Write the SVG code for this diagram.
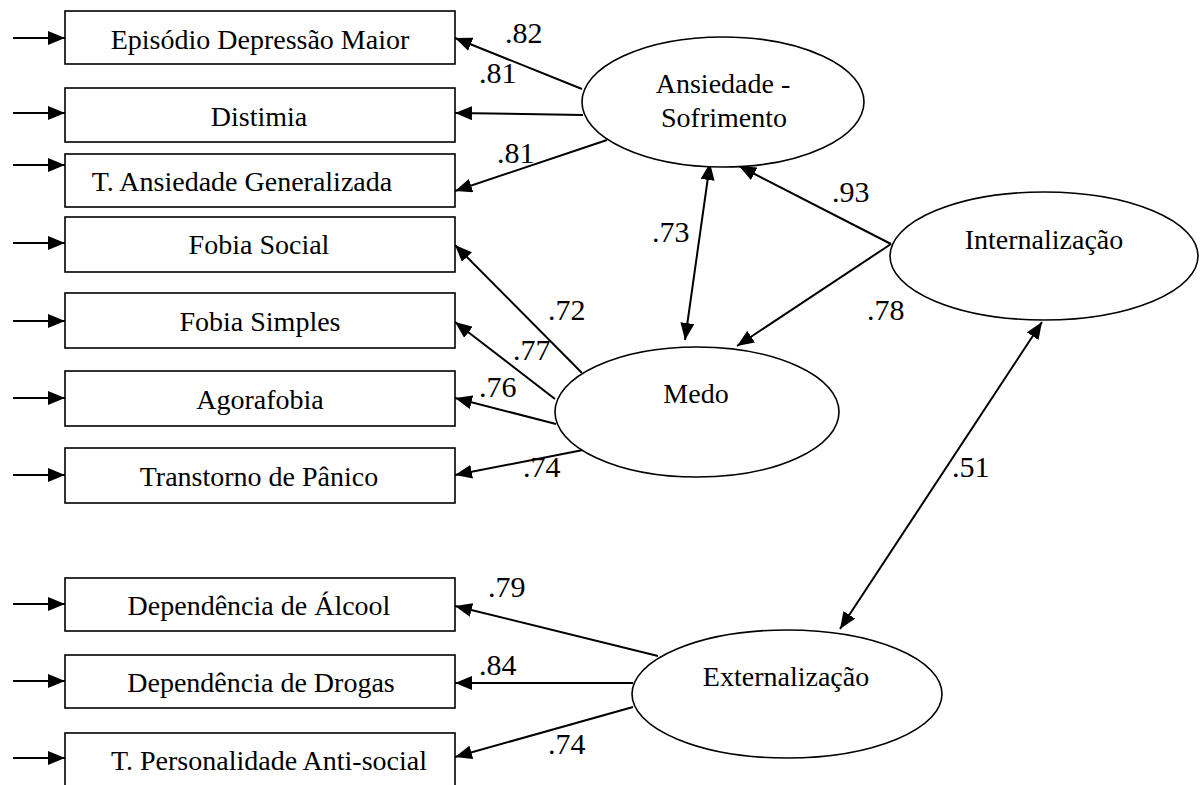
<svg xmlns="http://www.w3.org/2000/svg" width="1200" height="785" viewBox="0 0 1200 785">
<style>
.box{fill:#fff;stroke:#000;stroke-width:1.6}
.lat{fill:#fff;stroke:#000;stroke-width:1.6}
.t{font-family:"Liberation Serif","Times New Roman",serif;font-size:28px;fill:#000;text-anchor:middle}
.n{font-family:"Liberation Serif","Times New Roman",serif;font-size:30px;fill:#000}
.c{stroke:#000;stroke-width:2;fill:none}
</style>
<defs>
<marker id="ah" markerUnits="userSpaceOnUse" markerWidth="18" markerHeight="14" refX="17" refY="7" orient="auto-start-reverse" viewBox="0 0 18 14">
<path d="M0,0 L17,7 L0,14 z" fill="#000"/>
</marker>
</defs>
<rect width="1200" height="785" fill="#fff"/>

<g id="connectors">
<line class="c" x1="13" y1="38" x2="65" y2="38" marker-end="url(#ah)"/>
<line class="c" x1="13" y1="113" x2="65" y2="113" marker-end="url(#ah)"/>
<line class="c" x1="13" y1="165" x2="65" y2="165" marker-end="url(#ah)"/>
<line class="c" x1="13" y1="243" x2="65" y2="243" marker-end="url(#ah)"/>
<line class="c" x1="13" y1="321" x2="65" y2="321" marker-end="url(#ah)"/>
<line class="c" x1="13" y1="398" x2="65" y2="398" marker-end="url(#ah)"/>
<line class="c" x1="13" y1="475" x2="65" y2="475" marker-end="url(#ah)"/>
<line class="c" x1="13" y1="604" x2="65" y2="604" marker-end="url(#ah)"/>
<line class="c" x1="13" y1="681" x2="65" y2="681" marker-end="url(#ah)"/>
<line class="c" x1="13" y1="758" x2="65" y2="758" marker-end="url(#ah)"/>
<line class="c" x1="582" y1="89" x2="455" y2="38" marker-end="url(#ah)"/>
<line class="c" x1="583" y1="115" x2="455" y2="113" marker-end="url(#ah)"/>
<line class="c" x1="607" y1="140" x2="455" y2="191" marker-end="url(#ah)"/>
<line class="c" x1="710" y1="163" x2="685" y2="340" marker-start="url(#ah)" marker-end="url(#ah)"/>
<line class="c" x1="891" y1="244" x2="739" y2="166" marker-end="url(#ah)"/>
<line class="c" x1="891" y1="244" x2="737" y2="346" marker-end="url(#ah)"/>
<line class="c" x1="582" y1="373" x2="455" y2="245" marker-end="url(#ah)"/>
<line class="c" x1="555" y1="399" x2="455" y2="322" marker-end="url(#ah)"/>
<line class="c" x1="556" y1="424" x2="455" y2="398" marker-end="url(#ah)"/>
<line class="c" x1="583" y1="450" x2="455" y2="475" marker-end="url(#ah)"/>
<line class="c" x1="1042" y1="322" x2="840" y2="629" marker-start="url(#ah)" marker-end="url(#ah)"/>
<line class="c" x1="658" y1="656" x2="455" y2="606" marker-end="url(#ah)"/>
<line class="c" x1="633" y1="683" x2="455" y2="683" marker-end="url(#ah)"/>
<line class="c" x1="633" y1="707" x2="455" y2="757" marker-end="url(#ah)"/>
</g>

<g id="labels">
<text class="n" x="505" y="43">.82</text>
<text class="n" x="479" y="83">.81</text>
<text class="n" x="497" y="163">.81</text>
<text class="n" x="832" y="202">.93</text>
<text class="n" x="652" y="242">.73</text>
<text class="n" x="867" y="320">.78</text>
<text class="n" x="548" y="320">.72</text>
<text class="n" x="513" y="360">.77</text>
<text class="n" x="479" y="397">.76</text>
<text class="n" x="523" y="477">.74</text>
<text class="n" x="952" y="477">.51</text>
<text class="n" x="488" y="597">.79</text>
<text class="n" x="479" y="675">.84</text>
<text class="n" x="548" y="754">.74</text>
</g>

<g id="n-edm"><rect class="box" x="65" y="11" width="390" height="53"/><text class="t" x="260" y="49">Episódio Depressão Maior</text></g>
<g id="n-dist"><rect class="box" x="65" y="88" width="390" height="54"/><text class="t" x="259" y="126">Distimia</text></g>
<g id="n-tag"><rect class="box" x="65" y="154" width="390" height="53"/><text class="t" x="242" y="191">T. Ansiedade Generalizada</text></g>
<g id="n-fsoc"><rect class="box" x="65" y="217" width="390" height="55"/><text class="t" x="259" y="254">Fobia Social</text></g>
<g id="n-fsim"><rect class="box" x="65" y="293" width="390" height="55"/><text class="t" x="260" y="331">Fobia Simples</text></g>
<g id="n-agor"><rect class="box" x="65" y="371" width="390" height="55"/><text class="t" x="260" y="409">Agorafobia</text></g>
<g id="n-pan"><rect class="box" x="65" y="448" width="390" height="55"/><text class="t" x="259" y="486">Transtorno de Pânico</text></g>
<g id="n-alc"><rect class="box" x="65" y="578" width="390" height="53"/><text class="t" x="259" y="615">Dependência de Álcool</text></g>
<g id="n-drog"><rect class="box" x="65" y="655" width="390" height="53"/><text class="t" x="261" y="692">Dependência de Drogas</text></g>
<g id="n-tpas"><rect class="box" x="65" y="733" width="390" height="60"/><text class="t" x="269" y="770">T. Personalidade Anti-social</text></g>

<g id="n-ans"><ellipse class="lat" cx="723" cy="102" rx="141" ry="65"/><text class="t" x="723" y="93">Ansiedade -</text><text class="t" x="724" y="127">Sofrimento</text></g>
<g id="n-int"><ellipse class="lat" cx="1044" cy="256" rx="154" ry="64"/><text class="t" x="1044" y="249">Internalização</text></g>
<g id="n-medo"><ellipse class="lat" cx="697" cy="412" rx="142" ry="65"/><text class="t" x="696" y="403">Medo</text></g>
<g id="n-ext"><ellipse class="lat" cx="787" cy="694" rx="155" ry="64"/><text class="t" x="786" y="686">Externalização</text></g>
</svg>
